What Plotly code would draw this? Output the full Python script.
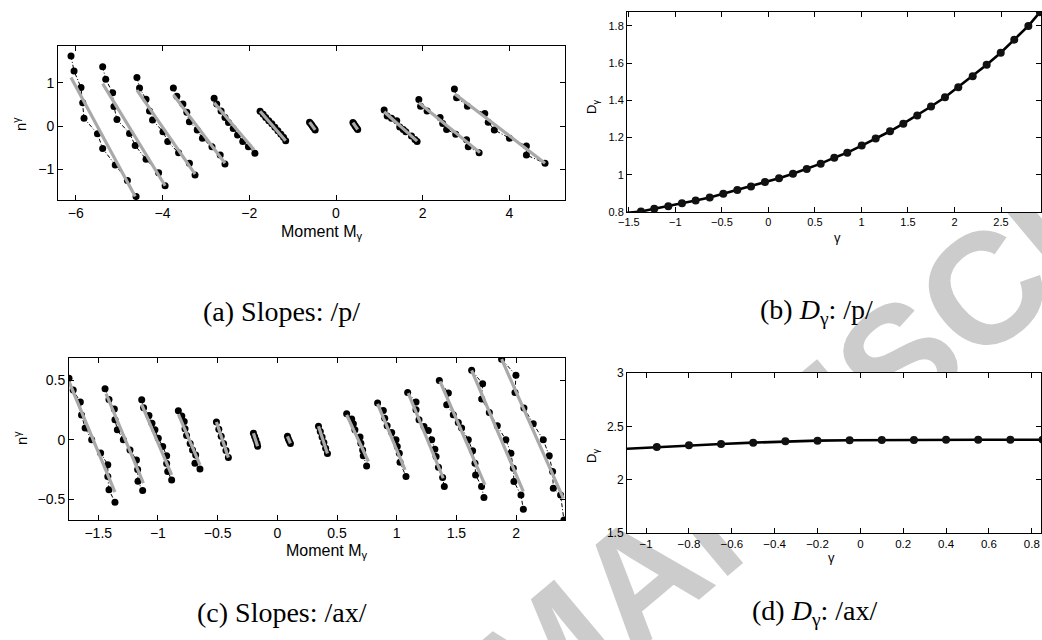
import plotly.graph_objects as go

W, H = 1042, 640

# ---------------- (a) Slopes: /p/ ----------------
a_M = [
    [-6.11, -6.04, -5.88, -5.84, -5.81, -5.50, -5.38, -5.09, -4.81, -4.61],
    [-5.38, -5.31, -5.15, -5.12, -5.05, -4.76, -4.63, -4.38, -4.09, -3.94],
    [-4.59, -4.53, -4.38, -4.30, -4.23, -3.99, -3.88, -3.63, -3.38, -3.25],
    [-3.75, -3.67, -3.53, -3.44, -3.38, -3.20, -3.08, -2.86, -2.67, -2.56],
    [-2.81, -2.75, -2.65, -2.56, -2.48, -2.37, -2.27, -2.15, -2.02, -1.87],
    [-1.75, -1.68, -1.62, -1.55, -1.48, -1.41, -1.34, -1.27, -1.21, -1.16],
    [-0.61, -0.58, -0.555, -0.53, -0.50, -0.48],
    [0.39, 0.41, 0.435, 0.455, 0.48, 0.50],
    [1.11, 1.18, 1.28, 1.40, 1.47, 1.55, 1.61, 1.74, 1.82, 1.87],
    [1.91, 1.95, 2.10, 2.40, 2.46, 2.55, 2.76, 3.01, 3.05, 3.30],
    [2.73, 2.78, 3.03, 3.43, 3.51, 3.65, 4.00, 4.39, 4.39, 4.82],
]
a_n = [
    [1.62, 1.27, 0.89, 0.54, 0.18, -0.18, -0.52, -0.90, -1.26, -1.63],
    [1.37, 1.08, 0.77, 0.45, 0.15, -0.17, -0.45, -0.77, -1.08, -1.38],
    [1.12, 0.88, 0.62, 0.35, 0.14, -0.13, -0.36, -0.62, -0.86, -1.13],
    [0.88, 0.69, 0.51, 0.32, 0.10, -0.09, -0.28, -0.48, -0.67, -0.88],
    [0.64, 0.51, 0.35, 0.20, 0.08, -0.06, -0.21, -0.36, -0.48, -0.63],
    [0.34, 0.27, 0.20, 0.12, 0.05, -0.03, -0.11, -0.19, -0.26, -0.34],
    [0.09, 0.055, 0.02, -0.02, -0.055, -0.09],
    [0.08, 0.05, 0.015, -0.015, -0.05, -0.08],
    [0.37, 0.23, 0.18, 0.12, -0.02, -0.08, -0.13, -0.23, -0.31, -0.36],
    [0.615, 0.46, 0.35, 0.20, 0.06, -0.08, -0.19, -0.32, -0.48, -0.615],
    [0.854, 0.654, 0.46, 0.29, 0.09, -0.09, -0.28, -0.46, -0.67, -0.86],
]
a_fit_M0 = [-6.11, -5.38, -4.59, -3.75, -2.81, -1.75, -0.61, 0.39, 1.11, 1.91, 2.74]
a_fit_n0 = [1.12, 0.98, 0.83, 0.72, 0.54, 0.34, 0.09, 0.08, 0.33, 0.54, 0.74]
a_fit_M1 = [-4.63, -3.94, -3.25, -2.56, -1.89, -1.16, -0.48, 0.50, 1.87, 3.32, 4.82]
a_fit_n1 = [-1.63, -1.38, -1.11, -0.86, -0.55, -0.34, -0.09, -0.08, -0.35, -0.615, -0.86]

# ---------------- (b) D_gamma: /p/ ----------------
b_gamma = [-1.37, -1.227, -1.076, -0.929, -0.782, -0.631, -0.485, -0.334, -0.187, -0.037,
           0.114, 0.264, 0.412, 0.562, 0.708, 0.848, 1.003, 1.153, 1.307, 1.45,
           1.60, 1.748, 1.898, 2.041, 2.196, 2.346, 2.497, 2.643, 2.794, 2.919]
b_D = [0.803, 0.817, 0.831, 0.847, 0.862, 0.878, 0.898, 0.918, 0.937, 0.961,
       0.982, 1.006, 1.031, 1.06, 1.092, 1.119, 1.157, 1.195, 1.234, 1.275,
       1.319, 1.367, 1.417, 1.471, 1.53, 1.591, 1.656, 1.726, 1.80, 1.874]
b_curve_start = (-1.52, 0.795)

# ---------------- (c) Slopes: /ax/ ----------------
c_M = [
    [-1.745, -1.71, -1.65, -1.64, -1.61, -1.555, -1.48, -1.42, -1.42, -1.41, -1.36],
    [-1.443, -1.41, -1.365, -1.36, -1.34, -1.29, -1.234, -1.18, -1.17, -1.167, -1.128],
    [-1.136, -1.12, -1.075, -1.05, -1.025, -0.997, -0.96, -0.927, -0.927, -0.918, -0.885],
    [-0.829, -0.80, -0.78, -0.773, -0.76, -0.73, -0.71, -0.684, -0.69, -0.648],
    [-0.51, -0.49, -0.47, -0.45, -0.43, -0.41],
    [-0.20, -0.19, -0.18, -0.17, -0.165],
    [0.085, 0.092, 0.10, 0.11],
    [0.345, 0.36, 0.375, 0.39, 0.405, 0.42],
    [0.581, 0.623, 0.637, 0.65, 0.693, 0.70, 0.715, 0.72, 0.748],
    [0.84, 0.888, 0.90, 0.92, 0.958, 0.994, 1.005, 1.022, 1.028, 1.078],
    [1.092, 1.162, 1.162, 1.187, 1.229, 1.265, 1.293, 1.32, 1.33, 1.35, 1.385, 1.399],
    [1.357, 1.433, 1.419, 1.474, 1.516, 1.544, 1.60, 1.636, 1.656, 1.661, 1.711, 1.731],
    [1.628, 1.72, 1.712, 1.776, 1.843, 1.915, 1.957, 1.977, 1.982, 2.041, 2.061],
    [1.879, 1.999, 1.991, 2.066, 2.144, 2.228, 2.278, 2.306, 2.312, 2.373, 2.401],
]
c_n = [
    [0.52, 0.42, 0.32, 0.21, 0.10, 0.0, -0.11, -0.21, -0.31, -0.42, -0.527],
    [0.43, 0.34, 0.26, 0.17, 0.085, 0.0, -0.085, -0.17, -0.25, -0.35, -0.428],
    [0.338, 0.27, 0.205, 0.14, 0.085, 0.014, -0.056, -0.135, -0.20, -0.268, -0.338],
    [0.245, 0.20, 0.155, 0.093, 0.037, -0.03, -0.085, -0.127, -0.197, -0.245],
    [0.15, 0.09, 0.03, -0.03, -0.09, -0.15],
    [0.055, 0.028, 0.0, -0.028, -0.055],
    [0.03, 0.01, -0.01, -0.03],
    [0.115, 0.07, 0.023, -0.023, -0.07, -0.115],
    [0.22, 0.175, 0.135, 0.085, 0.023, -0.028, -0.085, -0.135, -0.22],
    [0.31, 0.248, 0.183, 0.118, 0.062, 0.0, -0.056, -0.113, -0.189, -0.31],
    [0.40, 0.318, 0.254, 0.169, 0.113, 0.079, 0.0, -0.079, -0.141, -0.231, -0.318, -0.394],
    [0.50, 0.394, 0.296, 0.211, 0.146, 0.099, 0.0, -0.093, -0.197, -0.296, -0.394, -0.487],
    [0.586, 0.473, 0.344, 0.231, 0.118, 0.0, -0.113, -0.239, -0.352, -0.465, -0.586],
    [0.68, 0.544, 0.40, 0.268, 0.135, 0.0, -0.135, -0.268, -0.408, -0.465, -0.676],
]
c_fit_M0 = [-1.745, -1.435, -1.136, -0.829, -0.51, -0.20, 0.085, 0.345, 0.581, 0.84, 1.097, 1.363, 1.628, 1.879]
c_fit_n0 = [0.49, 0.39, 0.296, 0.217, 0.15, 0.055, 0.03, 0.115, 0.211, 0.304, 0.394, 0.493, 0.586, 0.68]
c_fit_M1 = [-1.36, -1.122, -0.885, -0.648, -0.41, -0.165, 0.11, 0.42, 0.763, 1.07, 1.39, 1.739, 2.061, 2.396]
c_fit_n1 = [-0.44, -0.366, -0.296, -0.211, -0.15, -0.055, -0.03, -0.115, -0.183, -0.254, -0.324, -0.38, -0.437, -0.493]

# ---------------- (d) D_gamma: /ax/ ----------------
d_gamma = [-0.95, -0.80, -0.65, -0.50, -0.35, -0.20, -0.05, 0.10, 0.25, 0.40, 0.55, 0.70, 0.85]
d_D = [2.306, 2.322, 2.334, 2.347, 2.359, 2.366, 2.369, 2.372, 2.373, 2.374, 2.374, 2.374, 2.374]
d_curve_start = (-1.089, 2.29)

captions = ["(a) Slopes: /p/", "(b) <i>D</i><sub>γ</sub>: /p/",
            "(c) Slopes: /ax/", "(d) <i>D</i><sub>γ</sub>: /ax/"]
watermark = "ACCEPTED MANUSCRIPT"

GRAY = "#a9a9a9"
fig = go.Figure()


def add_slopes(Ms, ns, M0, n0, M1, n1, xa, ya):
    for M, n in zip(Ms, ns):
        fig.add_trace(go.Scatter(x=M, y=n, xaxis=xa, yaxis=ya, mode="lines+markers",
                                 line=dict(color="black", width=1, dash="4px,2px,1px,2px"),
                                 marker=dict(color="black", size=7), showlegend=False,
                                 hoverinfo="skip"))
    for i in range(len(M0)):
        fig.add_trace(go.Scatter(x=[M0[i], M1[i]], y=[n0[i], n1[i]], xaxis=xa, yaxis=ya,
                                 mode="lines", line=dict(color=GRAY, width=3.2),
                                 showlegend=False, hoverinfo="skip"))


add_slopes(a_M, a_n, a_fit_M0, a_fit_n0, a_fit_M1, a_fit_n1, "x", "y")
add_slopes(c_M, c_n, c_fit_M0, c_fit_n0, c_fit_M1, c_fit_n1, "x3", "y3")

fig.add_trace(go.Scatter(x=[b_curve_start[0]] + b_gamma, y=[b_curve_start[1]] + b_D,
                         xaxis="x2", yaxis="y2", mode="lines", line=dict(color="black", width=2.6),
                         showlegend=False, hoverinfo="skip"))
fig.add_trace(go.Scatter(x=b_gamma, y=b_D, xaxis="x2", yaxis="y2", mode="markers",
                         marker=dict(color="#111111", size=8), showlegend=False))
fig.add_trace(go.Scatter(x=[d_curve_start[0]] + d_gamma, y=[d_curve_start[1]] + d_D,
                         xaxis="x4", yaxis="y4", mode="lines", line=dict(color="black", width=2.6),
                         showlegend=False, hoverinfo="skip"))
fig.add_trace(go.Scatter(x=d_gamma, y=d_D, xaxis="x4", yaxis="y4", mode="markers",
                         marker=dict(color="#111111", size=8), showlegend=False))

# plot boxes in screen pixels (left, top, right, bottom)
BOX = {"a": (58, 46, 565, 200), "b": (627, 12, 1041, 212),
       "c": (69, 358, 565, 520), "d": (627, 373, 1041, 533)}


def px(s):
    return s / W


def py(s):
    return 1 - s / H


def dx(b):
    return [px(b[0]), px(b[2])]


def dy(b):
    return [py(b[3]), py(b[1])]


FONT = "Arial, Liberation Sans, sans-serif"


def ax(domain, rng, tickvals, size, anchor):
    return dict(domain=domain, range=rng, tickvals=tickvals, ticks="inside", ticklen=5,
                tickcolor="black", showline=True, linecolor="black", linewidth=1,
                mirror="allticks", showgrid=False, zeroline=False, anchor=anchor,
                automargin=False,
                tickfont=dict(family=FONT, size=size, color="black"), fixedrange=True)


layout = dict(
    width=W, height=H, margin=dict(l=0, r=0, t=0, b=0, autoexpand=False),
    paper_bgcolor="white", plot_bgcolor="rgba(0,0,0,0)",
    xaxis=ax(dx(BOX["a"]), [-6.41, 5.28], [-6, -4, -2, 0, 2, 4], 14, "y"),
    yaxis=ax(dy(BOX["a"]), [-1.71, 1.85], [-1, 0, 1], 14, "x"),
    xaxis2=ax(dx(BOX["b"]), [-1.52, 2.93], [-1.5, -1, -0.5, 0, 0.5, 1, 1.5, 2, 2.5], 11, "y2"),
    yaxis2=ax(dy(BOX["b"]), [0.8, 1.875], [0.8, 1, 1.2, 1.4, 1.6, 1.8], 11, "x2"),
    xaxis3=ax(dx(BOX["c"]), [-1.745, 2.41], [-1.5, -1, -0.5, 0, 0.5, 1, 1.5, 2], 14, "y3"),
    yaxis3=ax(dy(BOX["c"]), [-0.676, 0.69], [-0.5, 0, 0.5], 14, "x3"),
    xaxis4=ax(dx(BOX["d"]), [-1.089, 0.843], [-1, -0.8, -0.6, -0.4, -0.2, 0, 0.2, 0.4, 0.6, 0.8], 11.5, "y4"),
    yaxis4=ax(dy(BOX["d"]), [1.5, 3], [1.5, 2, 2.5, 3], 12, "x4"),
)
fig.update_layout(**layout)

# watermark (behind the plot areas)
cx, cy = 540, 642
fig.add_shape(type="rect", xref="paper", yref="paper", layer="below",
              x0=px(cx - 50), x1=px(cx + 50), y0=py(cy + 50), y1=py(cy - 50),
              line=dict(width=0), fillcolor="rgba(0,0,0,0)",
              label=dict(text=watermark, textangle=-40, textposition="middle center",
                         font=dict(family="Liberation Sans, Arial", size=158, color="#cccccc",
                                   weight="bold")))
for k in "abcd":
    b = BOX[k]
    fig.add_shape(type="rect", xref="paper", yref="paper", layer="below",
                  x0=px(b[0]), x1=px(b[2]), y0=py(b[3]), y1=py(b[1]),
                  line=dict(width=0), fillcolor="white")


def ann(text, x, y, size, angle=0, family=FONT):
    fig.add_annotation(text=text, x=px(x), y=py(y), xref="paper", yref="paper",
                       showarrow=False, textangle=angle, xanchor="center", yanchor="middle",
                       font=dict(family=family, size=size, color="black"))


ann("n<sup>γ</sup>", 20, 124, 15, -90)
ann("Moment M<sub>γ</sub>", 322, 232, 16)
ann("D<sub>γ</sub>", 592, 107, 13, -90)
ann("γ", 837, 238, 13)
ann("n<sup>γ</sup>", 20, 438, 15, -90)
ann("Moment M<sub>γ</sub>", 327, 551, 16)
ann("D<sub>γ</sub>", 592, 456, 13, -90)
ann("γ", 831, 557, 13)

SERIF = "Liberation Serif, Times New Roman, serif"
ann(captions[0], 281, 311, 28, family=SERIF)
ann(captions[1], 816, 311, 28, family=SERIF)
ann(captions[2], 282, 612, 28, family=SERIF)
ann(captions[3], 815, 612, 28, family=SERIF)

# remove the default 8px page margin so the 1042x640 figure fills the window exactly
fig.write_html("out.html", config={"displayModeBar": False},
               post_script="document.body.style.margin='0';document.body.style.overflow='hidden';")
